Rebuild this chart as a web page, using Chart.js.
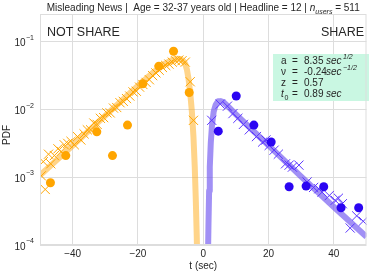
<!DOCTYPE html>
<html>
<head>
<meta charset="utf-8">
<script src="https://cdn.jsdelivr.net/npm/chart.js@4/dist/chart.umd.min.js"></script>
<style>
html, body { margin: 0; padding: 0; background: #fff; }
canvas { display: block; }
</style>
</head>
<body>
<canvas id="grafica" width="374" height="275"></canvas>
<script>
// NOT SHARE (negative t)
const noDotT = [-46.8, -42.1, -32.6, -27.8, -23.2, -18.5, -13.6, -9.1, -4.3]
const noDotY = [8.3e-4, 2.09e-3, 4.68e-3, 2.09e-3, 5.89e-3, 0.0240, 0.0437, 0.0724, 0.0178]

const noCrossT = [-49.6, -49.0, -48.4, -47.4, -46.7, -45.6, -44.5, -43.5, -42.6, -41.5, -40.5, -39.5,
    -38.5, -37.5, -36.5, -35.5, -34.5, -33.5, -32.5, -31.5, -30.5, -29.5, -28.5, -27.5, -26.5, -25.5,
    -24.5, -23.5, -22.5, -21.5, -20.5, -19.5, -18.5, -17.5, -16.5, -15.5, -14.5, -13.5, -12.5, -11.5,
    -10.5, -9.5, -8.5, -7.5, -6.5, -5.5, -4.0, -3.0]
const noCrossY = [1.05e-3, 1.70e-3, 6.61e-4, 2.19e-3, 1.58e-3, 2.09e-3, 2.63e-3, 2.40e-3, 3.02e-3, 3.16e-3, 3.39e-3, 3.02e-3,
    3.98e-3, 3.55e-3, 4.37e-3, 5.01e-3, 5.01e-3, 6.31e-3, 6.03e-3, 7.41e-3, 7.59e-3, 8.91e-3, 8.91e-3, 0.0105, 0.0107, 0.0126,
    0.0132, 0.0145, 0.0158, 0.0182, 0.0186, 0.0214, 0.0234, 0.0251, 0.0275, 0.0316, 0.0347, 0.0380, 0.0417, 0.0447,
    0.0468, 0.0501, 0.0525, 0.0537, 0.0525, 0.0501, 0.0257, 6.92e-3]

const noFitT = [-50, -40, -30, -20, -15, -12, -10, -9, -8, -7, -6, -5.5, -5.0, -4.5, -4.0, -3.5, -3.0, -2.6, -2.3, -2.0, -1.8]
const noFitY = [1.07e-3, 2.95e-3, 8.13e-3, 0.0224, 0.0363, 0.0468, 0.0525, 0.0550, 0.0562, 0.0556, 0.0513, 0.0468,
    0.0389, 0.0282, 0.0178, 9.55e-3, 3.98e-3, 1.41e-3, 5.01e-4, 1.41e-4, 5.01e-5]

// SHARE (positive t)
const siDotT = [4.6, 10.1, 15.5, 20.8, 26.3, 31.5, 36.9, 42.2, 47.6]
const siDotY = [4.79e-3, 0.0158, 5.89e-3, 3.31e-3, 7.24e-4, 7.41e-4, 7.24e-4, 3.55e-4, 3.55e-4]

const siCrossT = [2.6, 5.2, 7.4, 9.1, 10.6, 12.3, 14.1, 16.3, 18.2, 19.2, 20.2, 21.7, 23.0, 25.2, 26.3, 27.3, 29.3,
    31.8, 33.8, 35.4, 36.4, 38.6, 40.4, 41.4, 42.6, 45.0, 47.0, 49.0]
const siCrossY = [6.92e-3, 0.0120, 0.0112, 8.71e-3, 7.41e-3, 6.03e-3, 5.01e-3, 3.98e-3, 3.31e-3, 3.55e-3, 2.95e-3, 2.51e-3, 2.19e-3,
    1.58e-3, 1.51e-3, 1.41e-3, 1.51e-3, 8.51e-4, 7.08e-4, 6.76e-4, 6.03e-4, 5.37e-4, 4.57e-4, 4.90e-4, 4.07e-4,
    1.78e-4, 2.69e-4, 2.24e-4]

const siFitT = [1.4, 1.6, 1.8, 2.0, 2.3, 2.7, 3.2, 3.8, 4.5, 5.3, 6.2, 7.5, 10, 15, 20, 30, 40, 50]
const siFitY = [5.01e-5, 2.0e-4, 6.31e-4, 1.41e-3, 3.16e-3, 6.03e-3, 9.33e-3, 0.0117, 0.0132, 0.0133, 0.0129, 0.0112,
    8.51e-3, 5.01e-3, 2.95e-3, 1.02e-3, 3.63e-4, 1.32e-4]

// ejes
const xTicks = [-40, -20, 0, 20, 40]
const yTicks = [1e-4, 1e-3, 1e-2, 1e-1]
const yTickExp = ['\u22124', '\u22123', '\u22122', '\u22121']

// parametros del ajuste
const paramNames = ['a', '\u03bd', 'z', 't']
const paramValues = ['8.35', '-0.24', '0.57', '0.89']
const paramUnits = ['sec', 'sec', '', 'sec']
const paramExps = ['1/2', '\u22121/2', '', '']

const naranja = '#ffa500'
const azul = '#2b05f2'
const morado = '#5a35ff'
const texto = '#262626'
const fuente = 'Liberation Sans, Arial, sans-serif'

function puntos(xs, ys) {
    return xs.map((x, i) => ({ x: x, y: ys[i] }))
}

const textos = {
    id: 'textos',
    afterDatasetsDraw(chart) {
        const ctx = chart.ctx
        ctx.save()
        // caja de parametros
        ctx.fillStyle = '#c9f7e2'
        ctx.fillRect(273, 54, 96, 47)
        ctx.fillStyle = texto
        const bases = [63.5, 75, 86, 97]
        for (let i = 0; i < paramNames.length; i++) {
            const b = bases[i]
            ctx.textAlign = 'left'
            ctx.font = (i == 3 ? 'italic ' : '') + '10px ' + fuente
            ctx.fillText(paramNames[i], 281, b)
            if (i == 3) {
                ctx.font = '7px ' + fuente
                ctx.fillText('0', 284.5, b + 2.5)
            }
            ctx.font = '10px ' + fuente
            ctx.fillText('=', 292, b)
            ctx.fillText(paramValues[i], 304, b)
            if (paramUnits[i]) {
                ctx.font = 'italic 10px ' + fuente
                ctx.fillText(paramUnits[i], 326, b)
            }
            if (paramExps[i]) {
                ctx.font = 'italic 7px ' + fuente
                ctx.fillText(paramExps[i], 343, b - 5)
            }
        }
        ctx.restore()
    },
    afterDraw(chart) {
        const ctx = chart.ctx
        const area = chart.chartArea
        const xs = chart.scales.x
        const ys = chart.scales.y
        ctx.save()
        // marco
        ctx.strokeStyle = '#dddddd'
        ctx.lineWidth = 1
        ctx.strokeRect(area.left + 0.5, area.top + 0.5, area.right - area.left - 1, area.bottom - area.top - 1)

        ctx.fillStyle = texto
        // etiquetas eje x
        ctx.font = '10px ' + fuente
        ctx.textAlign = 'center'
        ctx.textBaseline = 'middle'
        xTicks.forEach(v => {
            const lab = v < 0 ? '\u2212' + Math.abs(v) : String(v)
            ctx.fillText(lab, xs.getPixelForValue(v), 254.5)
        })
        // etiquetas eje y
        ctx.textBaseline = 'alphabetic'
        ctx.textAlign = 'right'
        yTicks.forEach((v, i) => {
            const y = ys.getPixelForValue(v)
            ctx.font = '7px ' + fuente
            const w = ctx.measureText(yTickExp[i]).width
            ctx.fillText(yTickExp[i], 34, y - 2)
            ctx.font = '10px ' + fuente
            ctx.fillText('10', 34 - w - 0.5, y + 4.5)
        })
        // titulos de ejes
        ctx.textAlign = 'center'
        ctx.textBaseline = 'middle'
        ctx.font = '10px ' + fuente
        ctx.fillText('t (sec)', (area.left + area.right) / 2, 266)
        ctx.save()
        ctx.translate(7, 135)
        ctx.rotate(-Math.PI / 2)
        ctx.fillText('PDF', 0, 0)
        ctx.restore()

        // NOT SHARE / SHARE
        ctx.textBaseline = 'alphabetic'
        ctx.font = '12.5px ' + fuente
        ctx.textAlign = 'left'
        ctx.fillText('NOT SHARE', 47, 36)
        ctx.textAlign = 'right'
        ctx.fillText('SHARE', 364, 36)

        // titulo
        const partes = [
            ['Misleading News |  Age = 32-37 years old | Headline = 12 | ', '10px ', 0],
            ['n', 'italic 10px ', 0],
            ['users', 'italic 7px ', 2.5],
            [' = 511', '10px ', 0]
        ]
        let total = 0
        partes.forEach(p => {
            ctx.font = p[1] + fuente
            total += ctx.measureText(p[0]).width
        })
        let x = (area.left + area.right) / 2 - total / 2
        ctx.textAlign = 'left'
        partes.forEach(p => {
            ctx.font = p[1] + fuente
            ctx.fillText(p[0], x, 11 + p[2])
            x += ctx.measureText(p[0]).width
        })
        ctx.restore()
    }
}

const config = {
    type: 'scatter',
    data: {
        datasets: [
            {
                data: puntos(noDotT, noDotY),
                pointStyle: 'circle',
                pointRadius: 4.5,
                backgroundColor: naranja,
                borderWidth: 0,
                order: 0
            },
            {
                data: puntos(siDotT, siDotY),
                pointStyle: 'circle',
                pointRadius: 4.5,
                backgroundColor: azul,
                borderWidth: 0,
                order: 0
            },
            {
                data: puntos(noCrossT, noCrossY),
                pointStyle: 'crossRot',
                pointRadius: 6.5,
                borderColor: naranja,
                borderWidth: 1,
                order: 1
            },
            {
                data: puntos(siCrossT, siCrossY),
                pointStyle: 'crossRot',
                pointRadius: 6.5,
                borderColor: morado,
                borderWidth: 1,
                order: 1
            },
            {
                data: puntos(noFitT, noFitY),
                showLine: true,
                pointRadius: 0,
                borderColor: 'rgba(255, 170, 20, 0.5)',
                borderWidth: 6,
                borderJoinStyle: 'round',
                order: 2
            },
            {
                data: puntos(siFitT, siFitY),
                showLine: true,
                pointRadius: 0,
                borderColor: 'rgba(110, 85, 240, 0.65)',
                borderWidth: 6,
                borderJoinStyle: 'round',
                order: 2
            }
        ]
    },
    options: {
        responsive: false,
        animation: false,
        devicePixelRatio: 1,
        layout: { padding: { top: 14, right: 3, left: 0, bottom: 0 } },
        plugins: {
            legend: { display: false },
            tooltip: { enabled: false },
            title: { display: false }
        },
        scales: {
            x: {
                type: 'linear',
                min: -50,
                max: 50,
                afterBuildTicks: s => { s.ticks = xTicks.map(v => ({ value: v })) },
                afterFit: s => { s.height = 30 },
                ticks: { display: false },
                grid: { color: '#dddddd', lineWidth: 1, drawTicks: false },
                border: { display: false }
            },
            y: {
                type: 'logarithmic',
                min: 1e-4,
                max: 0.257,
                afterBuildTicks: s => { s.ticks = yTicks.map(v => ({ value: v })) },
                afterFit: s => { s.width = 40 },
                ticks: { display: false },
                grid: { color: '#dddddd', lineWidth: 1, drawTicks: false },
                border: { display: false }
            }
        }
    },
    plugins: [textos]
}

new Chart(document.getElementById('grafica'), config)
</script>
</body>
</html>
